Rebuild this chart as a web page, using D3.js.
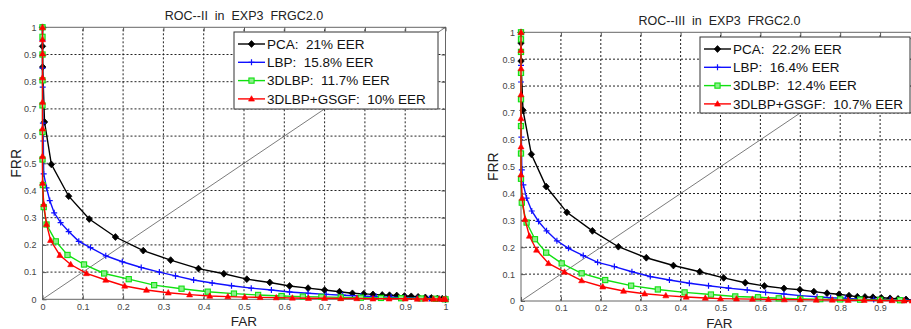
<!DOCTYPE html>
<html>
<head>
<meta charset="utf-8">
<style>
  body { margin: 0; background: #fff; }
  svg { display: block; font-family: "Liberation Sans", Arial, sans-serif; }
  .grid line { stroke: #222; stroke-width: 1px; stroke-dasharray: 2,2; }
  .frame { fill: none; stroke: #666; stroke-width: 1px; }
  .tick-lbl { font-size: 9px; fill: #444; }
  .diag { stroke: #444; stroke-width: 0.7px; }
  .curve { fill: none; stroke-width: 1.4px; }
  .legend-box { fill: #fff; stroke: #333; stroke-width: 1px; }
  text { white-space: pre; }
</style>
</head>
<body>
<svg width="911" height="329"></svg>

<script src="https://d3js.org/d3.v7.min.js"></script>
<script>

// tick values shared by both panels
var tickValues = [0, 0.1, 0.2, 0.3, 0.4, 0.5, 0.6, 0.7, 0.8, 0.9, 1];
var tickLabels = ["0", "0.1", "0.2", "0.3", "0.4", "0.5", "0.6", "0.7", "0.8", "0.9", "1"];

var seriesNames = ["PCA", "LBP", "3DLBP", "3DLBP+GSGF"];
var seriesColours = ["#000000", "#1010ff", "#10e010", "#ff0000"];
var seriesMarkers = ["diamond", "plus", "square", "triangle"];

// ROC--II : [FAR, FRR]
var pcaII = [[0,1],[0,0.93],[0.0005,0.854],[0.005,0.652],[0.022,0.496],[0.065,0.379],[0.116,0.295],[0.181,0.229],[0.25,0.179],[0.318,0.144],[0.387,0.113],[0.45,0.094],[0.507,0.074],[0.564,0.062],[0.613,0.049],[0.659,0.041],[0.7,0.034],[0.737,0.028],[0.769,0.022],[0.797,0.02],[0.82,0.018],[0.843,0.016],[0.861,0.015],[0.879,0.014],[0.898,0.012],[0.915,0.011],[0.932,0.009],[0.95,0.007],[0.965,0.005],[0.98,0.003],[0.992,0.002],[1,0]];
var lbpII = [[0,1],[0,0.952],[0,0.85],[0.0005,0.78],[0.001,0.648],[0.002,0.582],[0.003,0.461],[0.01,0.41],[0.018,0.363],[0.029,0.318],[0.045,0.282],[0.065,0.249],[0.09,0.213],[0.119,0.19],[0.157,0.16],[0.198,0.138],[0.245,0.117],[0.29,0.1],[0.33,0.086],[0.375,0.071],[0.421,0.06],[0.469,0.05],[0.518,0.041],[0.568,0.034],[0.613,0.027],[0.659,0.022],[0.704,0.018],[0.745,0.015],[0.79,0.012],[0.828,0.01],[0.865,0.008],[0.9,0.006],[0.93,0.004],[0.96,0.003],[0.985,0.002],[1,0]];
var dlbpII = [[0,1],[0,0.965],[0,0.9],[0,0.805],[0,0.713],[0,0.615],[0,0.514],[0.001,0.42],[0.003,0.339],[0.01,0.275],[0.033,0.213],[0.062,0.163],[0.103,0.128],[0.153,0.095],[0.214,0.074],[0.277,0.052],[0.345,0.039],[0.41,0.028],[0.475,0.021],[0.535,0.016],[0.593,0.012],[0.646,0.01],[0.692,0.009],[0.74,0.007],[0.79,0.006],[0.84,0.005],[0.89,0.004],[0.94,0.003],[0.975,0.002],[1,0]];
var gsgfII = [[0,1],[0,0.955],[0,0.903],[0,0.815],[0,0.725],[0,0.627],[0,0.526],[0,0.427],[0.003,0.349],[0.01,0.276],[0.02,0.217],[0.043,0.162],[0.07,0.128],[0.109,0.095],[0.157,0.071],[0.204,0.049],[0.258,0.034],[0.312,0.024],[0.365,0.017],[0.415,0.012],[0.46,0.01],[0.502,0.008],[0.54,0.007],[0.58,0.006],[0.62,0.005],[0.66,0.004],[0.7,0.004],[0.74,0.003],[0.78,0.003],[0.82,0.002],[0.86,0.002],[0.9,0.002],[0.93,0.001],[0.95,0.001],[0.97,0.001],[0.985,0.001],[0.995,0],[1,0]];

// ROC--III : [FAR, FRR]
var pcaIII = [[0,1],[0,0.96],[0,0.893],[0.005,0.71],[0.026,0.546],[0.063,0.426],[0.115,0.33],[0.179,0.261],[0.244,0.202],[0.314,0.161],[0.382,0.132],[0.448,0.109],[0.508,0.086],[0.562,0.068],[0.61,0.056],[0.659,0.047],[0.699,0.042],[0.734,0.035],[0.767,0.029],[0.797,0.025],[0.822,0.02],[0.843,0.016],[0.862,0.015],[0.882,0.014],[0.903,0.012],[0.925,0.01],[0.945,0.008],[0.965,0.006],[0.985,0.003],[1,0]];
var lbpIII = [[0,1],[0,0.976],[0,0.877],[0,0.815],[0.001,0.61],[0.002,0.488],[0.006,0.432],[0.014,0.383],[0.027,0.335],[0.044,0.296],[0.064,0.261],[0.09,0.224],[0.119,0.196],[0.156,0.169],[0.192,0.144],[0.234,0.128],[0.278,0.109],[0.324,0.091],[0.372,0.078],[0.422,0.066],[0.47,0.057],[0.52,0.048],[0.567,0.041],[0.613,0.032],[0.659,0.026],[0.7,0.02],[0.742,0.016],[0.776,0.012],[0.813,0.01],[0.847,0.007],[0.884,0.006],[0.925,0.005],[0.96,0.003],[1,0]];
var dlbpIII = [[0,1],[0,0.974],[0,0.927],[0,0.849],[0,0.751],[0,0.651],[0,0.549],[0,0.455],[0.002,0.366],[0.014,0.292],[0.035,0.23],[0.063,0.18],[0.102,0.14],[0.152,0.103],[0.211,0.078],[0.276,0.057],[0.343,0.043],[0.41,0.032],[0.476,0.024],[0.537,0.017],[0.594,0.014],[0.646,0.01],[0.7,0.008],[0.75,0.007],[0.8,0.006],[0.85,0.005],[0.9,0.004],[0.95,0.003],[1,0]];
var gsgfIII = [[0,1],[0,0.933],[0,0.865],[0,0.768],[0,0.679],[0,0.574],[0,0.47],[0.003,0.383],[0.01,0.304],[0.021,0.242],[0.039,0.19],[0.069,0.14],[0.109,0.108],[0.152,0.076],[0.205,0.053],[0.257,0.037],[0.31,0.027],[0.363,0.02],[0.414,0.015],[0.462,0.011],[0.5,0.009],[0.54,0.008],[0.58,0.007],[0.62,0.006],[0.66,0.005],[0.7,0.005],[0.74,0.004],[0.78,0.004],[0.82,0.003],[0.86,0.003],[0.9,0.002],[0.93,0.002],[0.96,0.001],[0.98,0.001],[1,0]];

var eerII = ["21%", "15.8%", "11.7%", "10%"];
var eerIII = ["22.2%", "16.4%", "12.4%", "10.7%"];

var svg = d3.select("svg");

var panels = [
  { title: "ROC--II  in  EXP3  FRGC2.0", x0: 42.5, x1: 445.5, y0: 299.3, y1: 27.3,
    titleY: 20, farY: 326, frrX: 16, lastLabel: true,
    legend: { x: 234, y: 32, w: 204, h: 77 },
    data: [pcaII, lbpII, dlbpII, gsgfII], eer: eerII },
  { title: "ROC--III  in  EXP3  FRGC2.0", x0: 521, x1: 920, y0: 301, y1: 32.3,
    titleY: 25, farY: 327.5, frrX: 493, lastLabel: false,
    legend: { x: 700, y: 37, w: 210, h: 76 },
    data: [pcaIII, lbpIII, dlbpIII, gsgfIII], eer: eerIII }
];

function drawMarker(sel, type, colour) {
  if (type === "diamond") {
    sel.append("path").attr("d", "M0,-3.4L3.2,0L0,3.4L-3.2,0Z")
      .attr("fill", colour).attr("stroke", colour).attr("stroke-width", 0.8);
  } else if (type === "plus") {
    sel.append("path").attr("d", "M-3,0H3M0,-3V3")
      .attr("stroke", colour).attr("stroke-width", 1.2).attr("fill", "none");
  } else if (type === "square") {
    sel.append("rect").attr("x", -2.6).attr("y", -2.6).attr("width", 5.2).attr("height", 5.2)
      .attr("fill", "#8cf08c").attr("stroke", colour).attr("stroke-width", 1.1);
  } else {
    sel.append("path").attr("d", "M0,-3.2L3,2.2L-3,2.2Z")
      .attr("fill", colour).attr("stroke", colour).attr("stroke-width", 0.6);
  }
}

panels.forEach(function(p) {
  var x = d3.scaleLinear().domain([0, 1]).range([p.x0, p.x1]);
  var y = d3.scaleLinear().domain([0, 1]).range([p.y0, p.y1]);
  var g = svg.append("g");

  // dotted grid
  var grid = g.append("g").attr("class", "grid");
  grid.selectAll(".gx").data(tickValues.slice(1, -1)).enter().append("line")
    .attr("x1", function(d) { return x(d); }).attr("x2", function(d) { return x(d); })
    .attr("y1", p.y0).attr("y2", p.y1);
  grid.selectAll(".gy").data(tickValues.slice(1, -1)).enter().append("line")
    .attr("y1", function(d) { return y(d); }).attr("y2", function(d) { return y(d); })
    .attr("x1", p.x0).attr("x2", p.x1);

  // axes with inward ticks on all four sides
  var fmt = function(d, i) { return tickLabels[i]; };
  var xFmt = function(d, i) { return (i === tickLabels.length - 1 && !p.lastLabel) ? "" : tickLabels[i]; };
  var ax = [
    g.append("g").attr("transform", "translate(0," + p.y0 + ")")
      .call(d3.axisBottom(x).tickValues(tickValues).tickFormat(xFmt).tickSizeInner(-4).tickSizeOuter(0).tickPadding(4)),
    g.append("g").attr("transform", "translate(" + p.x0 + ",0)")
      .call(d3.axisLeft(y).tickValues(tickValues).tickFormat(fmt).tickSizeInner(-4).tickSizeOuter(0).tickPadding(6)),
    g.append("g").attr("transform", "translate(0," + p.y1 + ")")
      .call(d3.axisTop(x).tickValues(tickValues).tickFormat("").tickSizeInner(-4).tickSizeOuter(0)),
    g.append("g").attr("transform", "translate(" + p.x1 + ",0)")
      .call(d3.axisRight(y).tickValues(tickValues).tickFormat("").tickSizeInner(-4).tickSizeOuter(0))
  ];
  ax.forEach(function(a) {
    a.select(".domain").remove();
    a.selectAll("line").attr("stroke", "#555");
    a.selectAll("text").attr("class", "tick-lbl").attr("font-family", null).attr("font-size", null);
  });

  g.append("rect").attr("class", "frame")
    .attr("x", p.x0).attr("y", p.y1).attr("width", p.x1 - p.x0).attr("height", p.y0 - p.y1);

  // y = x reference line
  g.append("line").attr("class", "diag")
    .attr("x1", x(0)).attr("y1", y(0)).attr("x2", x(1)).attr("y2", y(1));

  var line = d3.line().x(function(d) { return x(d[0]); }).y(function(d) { return y(d[1]); });

  p.data.forEach(function(series, i) {
    var colour = seriesColours[i];
    g.append("path").datum(series).attr("class", "curve").attr("stroke", colour).attr("d", line);
    g.selectAll(".m" + i).data(series).enter().append("g")
      .attr("transform", function(d) { return "translate(" + x(d[0]) + "," + y(d[1]) + ")"; })
      .each(function() { drawMarker(d3.select(this), seriesMarkers[i], colour); });
  });

  // legend
  var L = p.legend;
  var lg = g.append("g");
  lg.append("rect").attr("class", "legend-box").attr("x", L.x).attr("y", L.y).attr("width", L.w).attr("height", L.h);
  seriesNames.forEach(function(name, i) {
    var ry = L.y + 12 + i * 18.3;
    lg.append("line").attr("x1", L.x + 4).attr("x2", L.x + 31).attr("y1", ry).attr("y2", ry)
      .attr("stroke", seriesColours[i]).attr("stroke-width", 1.4);
    drawMarker(lg.append("g").attr("transform", "translate(" + (L.x + 17.5) + "," + ry + ")"), seriesMarkers[i], seriesColours[i]);
    lg.append("text").attr("x", L.x + 33).attr("y", ry + 4.8)
      .attr("font-size", 13.5).attr("fill", "#111")
      .text(name + ":  " + p.eer[i] + " EER");
  });

  // titles
  g.append("text").attr("x", (p.x0 + p.x1) / 2 + (p.x0 > 500 ? -1 : 0)).attr("y", p.titleY)
    .attr("text-anchor", "middle").attr("font-size", 12.5).attr("fill", "#222").text(p.title);
  g.append("text").attr("x", (p.x0 + p.x1) / 2 - (p.x0 > 500 ? 1 : 0)).attr("y", p.farY)
    .attr("text-anchor", "middle").attr("font-size", 13.5).attr("fill", "#222").text("FAR");
  g.append("text").attr("transform", "translate(" + p.frrX + "," + ((p.y0 + p.y1) / 2) + ") rotate(-90)")
    .attr("text-anchor", "middle").attr("dy", "0.35em").attr("font-size", 14).attr("fill", "#222").text("FRR");
});

</script>
</body>
</html>
